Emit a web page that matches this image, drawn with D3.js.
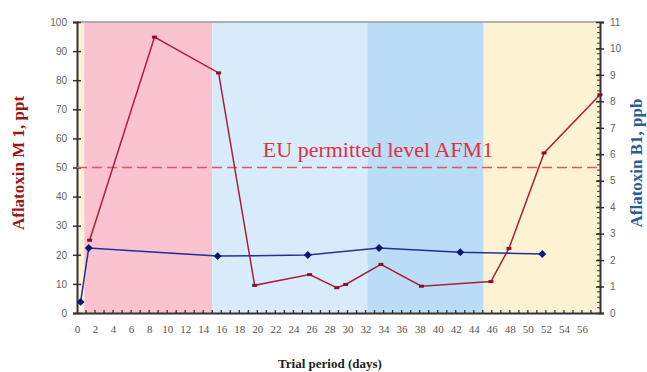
<!DOCTYPE html>
<html lang="en">
<head>
<meta charset="utf-8">
<title>Aflatoxin trial</title>
<script src="https://cdnjs.cloudflare.com/ajax/libs/d3/7.8.5/d3.min.js"></script>
<style>
body { margin: 0; background: #fff; }
svg { display: block; }
</style>
</head>
<body>
<div id="viz"></div>
<script>
// background periods (days)
const bandStart = [-1, 0.8, 15, 32.2, 45.1];
const bandEnd = [0.8, 15, 32.2, 45.1, 58];
const bandColor = ["#fdf3d3", "#fac3cf", "#d8ebfb", "#badcf6", "#fdf3d3"];

// AFM1, ppt (left axis)
const afmDays = [1.4, 8.6, 15.7, 19.7, 25.8, 28.8, 29.8, 33.7, 38.2, 45.9, 47.9, 51.8, 58];
const afmValues = [25, 94.8, 82.5, 9.5, 13.2, 8.7, 9.8, 16.7, 9.2, 10.8, 22.2, 55, 75];

// AFB1, ppb (right axis)
const afbDays = [0.4, 1.3, 15.6, 25.6, 33.5, 42.5, 51.6];
const afbValues = [0.42, 2.46, 2.15, 2.19, 2.46, 2.3, 2.23];

const euLimit = 50;
const xTicks = d3.range(0, 57, 2);
const leftTicks = d3.range(0, 101, 10);
const rightTicks = d3.range(0, 12, 1);

const width = 647, height = 372;
const mLeft = 77, mRight = 600, mTop = 22, mBottom = 313;

const svg = d3.select("#viz").append("svg")
    .attr("width", width)
    .attr("height", height);

const x = d3.scaleLinear().domain([0, 58]).range([mLeft, mRight]);
const yL = d3.scaleLinear().domain([0, 100]).range([mBottom, mTop]);
const yR = d3.scaleLinear().domain([0, 11]).range([mBottom, mTop]);

// bands
svg.append("g").selectAll("rect")
    .data(bandStart)
    .join("rect")
    .attr("x", d => Math.max(mLeft, x(d)))
    .attr("y", mTop)
    .attr("width", (d, i) => x(bandEnd[i]) - Math.max(mLeft, x(d)))
    .attr("height", mBottom - mTop)
    .attr("fill", (d, i) => bandColor[i]);

// top frame line
svg.append("line")
    .attr("x1", mLeft).attr("x2", mRight)
    .attr("y1", mTop).attr("y2", mTop)
    .attr("stroke", "#9a9a9a").attr("stroke-width", 1.5);

// axes
const sans = "Liberation Sans, Arial, sans-serif";
const serif = "Liberation Serif, Times New Roman, serif";

const xAxis = svg.append("g")
    .attr("transform", `translate(0,${mBottom})`)
    .call(d3.axisBottom(x).tickValues(xTicks).tickSize(0).tickPadding(12));
xAxis.selectAll("text").attr("font-family", serif).attr("font-size", 11).attr("fill", "#555");
xAxis.select(".domain").attr("stroke", "#333").attr("stroke-width", 2);
// minor day ticks pointing up
xAxis.append("g").selectAll("line")
    .data(d3.range(1, 58, 1))
    .join("line")
    .attr("x1", d => x(d)).attr("x2", d => x(d))
    .attr("y1", 0).attr("y2", -3)
    .attr("stroke", "#333").attr("stroke-width", 1.3);

const yAxisL = svg.append("g")
    .attr("transform", `translate(${mLeft},0)`)
    .call(d3.axisLeft(yL).tickValues(leftTicks).tickSize(4).tickPadding(6));
yAxisL.selectAll(".tick line").attr("x2", 4).attr("x1", -4).attr("stroke", "#333").attr("stroke-width", 1.5);
yAxisL.selectAll("text").attr("font-family", sans).attr("font-size", 10).attr("fill", "#666");
yAxisL.select(".domain").attr("stroke", "#333").attr("stroke-width", 2);

const yAxisR = svg.append("g")
    .attr("transform", `translate(${mRight},0)`)
    .call(d3.axisRight(yR).tickValues(rightTicks).tickSize(4).tickPadding(6));
yAxisR.selectAll(".tick line").attr("x1", -4).attr("x2", 4).attr("stroke", "#333").attr("stroke-width", 1.5);
yAxisR.selectAll("text").attr("font-family", sans).attr("font-size", 10).attr("fill", "#666");
yAxisR.select(".domain").attr("stroke", "#333").attr("stroke-width", 2);
yAxisR.append("g").selectAll("line")
    .data(d3.range(0.2, 11, 0.2))
    .join("line")
    .attr("x1", -3).attr("x2", 0)
    .attr("y1", d => yR(d)).attr("y2", d => yR(d))
    .attr("stroke", "#333").attr("stroke-width", 1);

// EU limit
svg.append("line")
    .attr("x1", mLeft).attr("x2", mRight)
    .attr("y1", yL(euLimit)).attr("y2", yL(euLimit))
    .attr("stroke", "#e0566a").attr("stroke-width", 1.5)
    .attr("stroke-dasharray", "10,5");
svg.append("text")
    .attr("x", 378).attr("y", 157)
    .attr("text-anchor", "middle")
    .attr("font-family", serif).attr("font-size", 22)
    .attr("fill", "#e3303f")
    .text("EU permitted level AFM1");

// AFM1 line
const afm = afmDays.map((d, i) => [d, afmValues[i]]);
svg.append("path")
    .datum(afm)
    .attr("fill", "none")
    .attr("stroke", "#a8203a").attr("stroke-width", 1.5)
    .attr("d", d3.line().x(d => x(d[0])).y(d => yL(d[1])));
svg.append("g").selectAll("rect")
    .data(afm)
    .join("rect")
    .attr("x", d => x(d[0]) - 2.5).attr("y", d => yL(d[1]) - 1.5)
    .attr("width", 5).attr("height", 3)
    .attr("fill", "#8e1024");

// AFB1 line
const afb = afbDays.map((d, i) => [d, afbValues[i]]);
svg.append("path")
    .datum(afb)
    .attr("fill", "none")
    .attr("stroke", "#23309a").attr("stroke-width", 1.5)
    .attr("d", d3.line().x(d => x(d[0])).y(d => yR(d[1])));
svg.append("g").selectAll("path")
    .data(afb)
    .join("path")
    .attr("transform", d => `translate(${x(d[0])},${yR(d[1])})`)
    .attr("d", d3.symbol(d3.symbolDiamond2, 40))
    .attr("fill", "#0b1670");

// axis titles
svg.append("text")
    .attr("transform", "translate(24,163) rotate(-90)")
    .attr("text-anchor", "middle")
    .attr("font-family", serif).attr("font-weight", "bold").attr("font-size", 17)
    .attr("fill", "#9c1616")
    .text("Aflatoxin M 1, ppt");
svg.append("text")
    .attr("transform", "translate(642,163) rotate(-90)")
    .attr("text-anchor", "middle")
    .attr("font-family", serif).attr("font-weight", "bold").attr("font-size", 17)
    .attr("fill", "#2a5c9c")
    .text("Aflatoxin B1, ppb");
svg.append("text")
    .attr("x", 330).attr("y", 368)
    .attr("text-anchor", "middle")
    .attr("font-family", serif).attr("font-weight", "bold").attr("font-size", 13)
    .attr("fill", "#222")
    .text("Trial period (days)");
</script>
</body>
</html>
